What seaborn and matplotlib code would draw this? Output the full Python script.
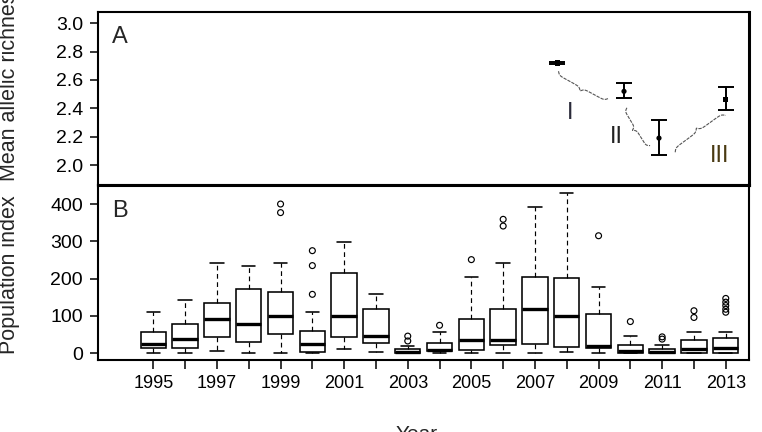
import numpy as np
import pandas as pd
import matplotlib
matplotlib.use("Agg")
import matplotlib.pyplot as plt
import seaborn as sns

# ---------------- data ----------------
years = list(range(1995, 2014))
whislo = [0, 0, 5, 0, 0, 0, 11, 3.5, 0, 0, 0, 2, 0, 4, 0, 0, 0, 0, 0]
q1 = [13, 13, 43, 31, 51, 3.5, 44, 27, 1, 5, 8, 21, 25, 17, 15, 2, 1, 1, 1]
med = [24, 39, 91, 78, 100, 25, 100, 45.5, 3.5, 9, 36, 35, 120, 101, 19.6, 6, 4, 11.5, 15]
q3 = [56, 78, 134, 173, 163, 59, 216, 119, 11, 28.5, 91, 119, 205, 203, 104.5, 22, 12, 35, 41]
whishi = [111.5, 143, 241, 235, 241, 111.5, 297, 160, 20, 56, 205, 241, 391, 430, 177, 45.5, 22, 56, 56]
outlier_years = [1999, 1999, 2000, 2000, 2000, 2003, 2003, 2004, 2005, 2006, 2006,
                 2009, 2010, 2011, 2011, 2012, 2012, 2013, 2013, 2013, 2013, 2013]
outlier_values = [400, 377, 275, 235, 158, 46, 33, 75, 251, 359, 341,
                  315, 85, 44, 38, 114, 96, 147, 137, 128, 118, 110]

ar_x = [2007.7, 2009.8, 2010.9, 2013.0]
ar_mean = [2.72, 2.52, 2.19, 2.46]
ar_low = [2.71, 2.47, 2.07, 2.39]
ar_high = [2.73, 2.577, 2.315, 2.55]
ar_marker = ["s", "o", "o", "s"]

brace_labels = ["I", "II", "III"]
brace_start = [(2007.74, 2.662), (2009.89, 2.404), (2011.41, 2.09)]
brace_end = [(2009.31, 2.47), (2010.62, 2.137), (2013.0, 2.35)]
brace_label_pos = [(2008.12, 2.366), (2009.57, 2.196), (2012.82, 2.066)]
brace_label_col = ["#2b2b3a", "#222222", "#4a3a12"]

xtick_years = years
ytick_top = [2.0, 2.2, 2.4, 2.6, 2.8, 3.0]
ytick_bot = [0, 100, 200, 300, 400]

# ---------------- style ----------------
sns.set_theme(style="ticks")
plt.rcParams["font.family"] = ["Liberation Sans", "DejaVu Sans"]
plt.rcParams["axes.linewidth"] = 1.5

W, H = 762, 432
fig = plt.figure(figsize=(W / 100, H / 100), dpi=100)
L, R = 97.7 / W, 749.3 / W
ax1 = fig.add_axes([L, 1 - 185 / H, R - L, (185 - 11.7) / H])
ax2 = fig.add_axes([L, 1 - 360 / H, R - L, (360 - 185) / H])

xlim = (1993.25, 2013.74)

# ---------------- top panel ----------------
ax1.set_xlim(*xlim)
ax1.set_ylim(1.859, 3.082)
yerr = [np.array(ar_mean) - np.array(ar_low), np.array(ar_high) - np.array(ar_mean)]
ax1.errorbar(ar_x, ar_mean, yerr=yerr, fmt="none", ecolor="black",
             elinewidth=1.4, capsize=5.5, capthick=1.4)
df_ar = pd.DataFrame({"x": ar_x, "y": ar_mean, "m": ar_marker})
sns.scatterplot(data=df_ar, x="x", y="y", style="m", markers={"s": "s", "o": "o"},
                color="black", s=14, linewidth=0, legend=False, ax=ax1, zorder=5)
ax1.set_xticks([])
ax1.set_yticks(ytick_top)
ax1.set_yticklabels([f"{v:.1f}" for v in ytick_top])
ax1.set_xlabel("")
ax1.set_ylabel("Mean allelic richness", fontsize=15.5)
ax1.text(0.022, 0.918, "A", transform=ax1.transAxes, fontsize=17, va="top", ha="left")

fig.canvas.draw()


def brace(ax, p0, p1, amp=6.0, sign=1, **kw):
    P0 = ax.transData.transform(p0)
    P1 = ax.transData.transform(p1)
    d = P1 - P0
    length = np.hypot(*d)
    u = d / length
    n = np.array([-u[1], u[0]]) * sign
    t = np.linspace(0, 1, 201)
    half = t[:101]
    beta = 40.0
    yh = 1 / (1 + np.exp(-beta * (half - half[0]))) + 1 / (1 + np.exp(-beta * (half - half[-1])))
    yy = np.concatenate([yh, yh[-2::-1]])
    yy = (yy - yy[0]) / (yy.max() - yy[0])
    pts = P0[None, :] + t[:, None] * d[None, :] + (amp * yy)[:, None] * n[None, :]
    dp = ax.transData.inverted().transform(pts)
    ax.plot(dp[:, 0], dp[:, 1], **kw)


brace_sign = [-1, -1, 1]
for p0, p1, sg in zip(brace_start, brace_end, brace_sign):
    brace(ax1, p0, p1, amp=7, sign=sg, color="#555555", lw=0.8,
          linestyle=(0, (3, 1)))
for lab, pos, col in zip(brace_labels, brace_label_pos, brace_label_col):
    ax1.text(pos[0], pos[1], lab, fontsize=17, color=col, ha="center", va="center")

# ---------------- bottom panel ----------------
stats = []
for i, yr in enumerate(years):
    stats.append(dict(med=med[i], q1=q1[i], q3=q3[i], whislo=whislo[i],
                      whishi=whishi[i], fliers=[], label=str(yr)))
ax2.bxp(stats, positions=years, widths=0.8, showfliers=False, patch_artist=True,
        boxprops=dict(facecolor="white", edgecolor="black", linewidth=1.15),
        medianprops=dict(color="black", linewidth=2.4),
        whiskerprops=dict(color="black", linewidth=0.85, linestyle=(0, (4, 3))),
        capprops=dict(color="black", linewidth=1.15), capwidths=0.42,
        manage_ticks=False)
df_out = pd.DataFrame({"year": outlier_years, "value": outlier_values})
sns.scatterplot(data=df_out, x="year", y="value", marker="o", s=18,
                facecolor="none", edgecolor="black", linewidth=0.85,
                legend=False, ax=ax2, zorder=5)
ax2.set_xlim(*xlim)
ax2.set_ylim(-18, 451)
ax2.set_yticks(ytick_bot)
ax2.set_yticklabels([str(v) for v in ytick_bot])
ax2.set_xticks(xtick_years)
ax2.set_xticklabels([str(y) if y % 2 == 1 else "" for y in xtick_years])
ax2.set_ylabel("Population index", fontsize=15.5)
ax2.set_xlabel("")
ax2.text(0.022, 0.913, "B", transform=ax2.transAxes, fontsize=17, va="top", ha="left")
fig.text(396 / W, 1 - 425 / H, "Year", fontsize=15, ha="left", va="top")

for ax in (ax1, ax2):
    for s in ax.spines.values():
        s.set_visible(True)
        s.set_linewidth(1.5)
        s.set_color("black")
    ax.tick_params(axis="both", length=5.6, width=1.1, color="black",
                   labelcolor="black", direction="out")
    ax.tick_params(axis="y", pad=5, labelsize=14)
    ax.tick_params(axis="x", pad=4.5, labelsize=13)
    ax.grid(False)
    ax.set_facecolor("white")
ax2.tick_params(axis="x", length=6.5)
ax1.spines["bottom"].set_linewidth(2.2)
ax2.spines["top"].set_linewidth(2.2)
ax1.spines["right"].set_linewidth(2.2)

ax1.yaxis.set_label_coords(-0.119, 0.6)
ax2.yaxis.set_label_coords(-0.119, 0.49)

fig.savefig("out.png", dpi=100, facecolor="white")
